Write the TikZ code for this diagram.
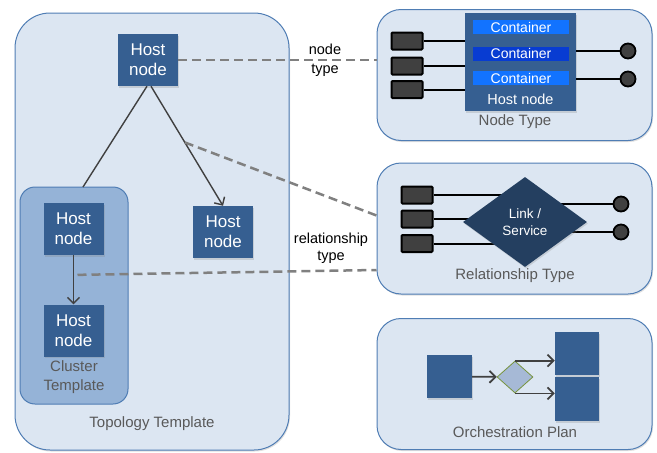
\documentclass[tikz,border=0pt]{standalone}
\usepackage{fontspec}
\setmainfont{Liberation Sans}
\usetikzlibrary{shapes.geometric,arrows.meta,shadows,calc}

\definecolor{boxfill}{RGB}{220,230,242}
\definecolor{boxline}{RGB}{79,125,180}
\definecolor{clusterfill}{RGB}{149,179,215}
\definecolor{hostblue}{RGB}{54,95,145}
\definecolor{contlight}{RGB}{18,115,255}
\definecolor{contdark}{RGB}{8,60,210}
\definecolor{linkblue}{RGB}{36,63,96}
\definecolor{gatefill}{RGB}{166,185,214}
\definecolor{gateline}{RGB}{119,147,60}
\definecolor{labelgray}{RGB}{89,89,89}
\definecolor{dashgray}{RGB}{128,128,128}

\tikzset{
  shade box/.style={drop shadow={opacity=0.25, shadow xshift=1pt, shadow yshift=-1.5pt}},
  tmpl/.style={draw=boxline, line width=1pt, fill=boxfill, rounded corners=#1,
    inner sep=0pt, shade box},
  panel/.style={tmpl=24pt, minimum width=275pt, minimum height=131pt},
  clusterbox/.style={draw=boxline, line width=1pt, fill=clusterfill,
    rounded corners=15pt, inner sep=0pt},
  host/.style={fill=hostblue, text=white, align=center, inner sep=0pt,
    minimum width=60pt, minimum height=52pt,
    font=\fontsize{17}{20}\selectfont, shade box},
  block/.style={fill=hostblue, inner sep=0pt, shade box},
  cont/.style={text=white, inner sep=0pt, minimum width=96pt, minimum height=14pt,
    font=\fontsize{14}{16}\selectfont},
  port/.style={draw=black, line width=2pt, fill=black!75, inner sep=0pt,
    rounded corners=1pt, minimum width=31pt, minimum height=17pt},
  plug/.style={circle, draw=black, line width=1.8pt, fill=black!75, inner sep=0pt,
    minimum size=15pt},
  wire/.style={line width=2pt, black},
  tlabel/.style={text=labelgray, align=center, font=\fontsize{15}{19}\selectfont},
  conn/.style={line width=1.4pt, black!75},
  barb/.style={-{Straight Barb[length=6pt,width=12pt]}},
  typelink/.style={line width=2.5pt, dashgray, dash pattern=on 9pt off 5pt},
  flow/.style={line width=1.8pt, black!75, barb},
}

\begin{document}
\begin{tikzpicture}[x=1pt, y=-1pt]
  \useasboundingbox (0,0) rectangle (657,453);

  % topology template
  \node[tmpl=35pt, minimum width=274pt, minimum height=437pt] (topo) at (152,231.5) {};
  \node[clusterbox, minimum width=108pt, minimum height=217pt] (cluster) at (74,295.5) {};
  \coordinate (clustop) at (83,187);

  \node[host] (hosta) at (148,60) {Host\\node};
  \node[host] (hostb) at (73.5,229) {Host\\node};
  \node[host] (hostc) at (73.5,330.5) {Host\\node};
  \node[host] (hostd) at (223,232) {Host\\node};

  \node[tlabel] at (74,377) {Cluster\\Template};
  \node[tlabel] at (152,424) {Topology Template};

  \draw[conn] ($(hosta.south)+(-1,0)$) -- (clustop);
  \draw[conn, barb] ($(hosta.south)+(3,0)$)
    -- coordinate[pos=0.47] (relfoot) (hostd.north);
  \draw[conn, barb] (hostb)
    -- coordinate[pos=0.4] (clfoot) (hostc);

  % node type
  \node[panel] (nodetype) at (514.5,75) {};
  \node[host, minimum width=111pt, minimum height=98pt] (hostbox) at (520.5,62) {};
  \node[text=white, font=\fontsize{14.5}{17}\selectfont] at (520.5,99) {Host node};
  \foreach \y/\c [count=\i] in {27/contlight, 53.5/contdark, 78/contlight}
    \node[cont, fill=\c] (cont\i) at (521,\y) {Container};
  \foreach \y [count=\i] in {41,66,89.5} {
    \node[port] (np\i) at (407,\y) {};
    \draw[wire] (np\i.east) -- (np\i.east -| hostbox.west);
  }
  \foreach \y [count=\i] in {51,79} {
    \node[plug] (nc\i) at (628,\y) {};
    \draw[wire] (nc\i.west) -- (nc\i.west -| hostbox.east);
  }
  \node[tlabel] at (515,122) {Node Type};

  % relationship type
  \node[panel] (reltype) at (514.5,228.5) {};
  \coordinate (linkc) at (525,222);
  \foreach \y [count=\i] in {195,219,243.5} {
    \node[port] (rp\i) at (417,\y) {};
    \draw[wire] (rp\i.east) -- (rp\i.east -| linkc);
  }
  \foreach \y [count=\i] in {204,232} {
    \node[plug] (rc\i) at (621,\y) {};
    \draw[wire] (rc\i.west) -- (rc\i.west -| linkc);
  }
  \node[diamond, fill=linkblue, text=white, align=center, inner sep=0pt,
    minimum width=124pt, minimum height=90pt, shade box,
    font=\fontsize{13.5}{17}\selectfont] (link) at (linkc) {Link /\\Service};
  \node[tlabel] at (515,276) {Relationship Type};

  % orchestration plan
  \node[panel] (orch) at (514.5,384) {};
  \node[block, minimum width=45pt, minimum height=43pt] (task) at (449.5,376.5) {};
  \node[diamond, draw=gateline, fill=gatefill, line width=0.8pt, inner sep=0pt,
    minimum width=36pt, minimum height=32pt] (choice) at (515,377) {};
  \node[block, minimum width=44pt, minimum height=43pt] (taska) at (577,353.5) {};
  \node[block, minimum width=44pt, minimum height=44pt] (taskb) at (577,399) {};
  \draw[flow] (task) -- (choice);
  \draw[flow] (choice.north) -- (choice.north -| taska.west);
  \draw[flow] (choice.south) -- (choice.south -| taskb.west);
  \node[tlabel] at (515,432) {Orchestration Plan};

  % type links
  \draw[typelink] (hosta.east) -- (nodetype.west |- hosta.east);
  \draw[typelink] (relfoot) -- ($(reltype.west)+(0,-13)$);
  \draw[typelink] ($(clfoot)+(4,0)$) -- ($(reltype.west)+(0,41.5)$);
  \node[align=center, font=\fontsize{14.5}{19}\selectfont] at (325,60) {node\\type};
  \node[align=center, font=\fontsize{14.5}{17}\selectfont] at (331,248) {relationship\\type};
\end{tikzpicture}
\end{document}
